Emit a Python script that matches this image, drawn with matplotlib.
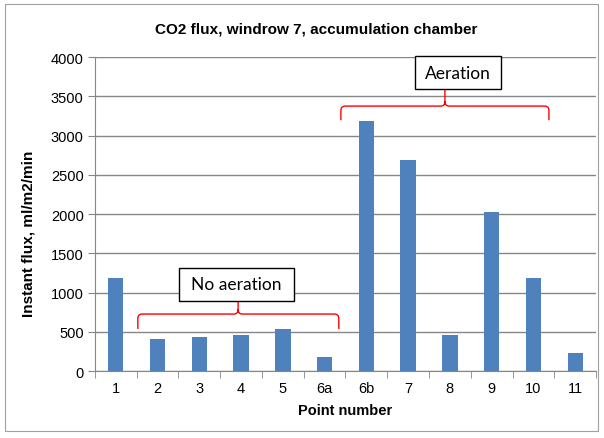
import matplotlib
matplotlib.use('Agg')
import matplotlib.pyplot as plt
from matplotlib.path import Path
from matplotlib.patches import PathPatch, Rectangle

points = ['1', '2', '3', '4', '5', '6a', '6b', '7', '8', '9', '10', '11']
flux = [1190, 410, 430, 460, 540, 180, 3190, 2690, 460, 2030, 1190, 230]

BAR_COLOR = '#4F81BD'
GRID_COLOR = '#868686'
BRACE_COLOR = '#FF0000'

plt.rcParams['font.family'] = ['Liberation Sans', 'DejaVu Sans']


def brace(ax, x0, x1, xm, y, drop, peak, r=0.1, rh=60):
    """Horizontal curly bracket opening downward, with a stem up to the label box."""
    verts = [(x0, y - drop), (x0, y - rh), (x0, y), (x0 + r, y),
             (xm - r, y), (xm, y), (xm, y + rh), (xm, peak),
             (xm, y + rh), (xm, y), (xm + r, y),
             (x1 - r, y), (x1, y), (x1, y - rh), (x1, y - drop)]
    codes = [Path.MOVETO, Path.LINETO, Path.CURVE3, Path.CURVE3,
             Path.LINETO, Path.CURVE3, Path.CURVE3, Path.LINETO,
             Path.MOVETO, Path.CURVE3, Path.CURVE3,
             Path.LINETO, Path.CURVE3, Path.CURVE3, Path.LINETO]
    ax.add_patch(PathPatch(Path(verts, codes), facecolor='none',
                           edgecolor=BRACE_COLOR, lw=1.0, clip_on=False, zorder=4))


def label_box(ax, x0, x1, y0, y1, text):
    ax.add_patch(Rectangle((x0, y0), x1 - x0, y1 - y0, facecolor='white',
                           edgecolor='black', lw=1.0, clip_on=False, zorder=5))
    ax.text((x0 + x1) / 2, (y0 + y1) / 2, text, ha='center', va='center',
            fontsize=12.5, family=['Lato', 'DejaVu Sans'], zorder=6)


fig = plt.figure(figsize=(6.04, 4.39), dpi=100)
fig.patches.append(Rectangle((5 / 604, 7 / 439), 593 / 604, 427 / 439,
                             transform=fig.transFigure, fill=False,
                             edgecolor='#A0A0A0', lw=0.8))
ax = fig.add_axes([0.157, 0.1526, 0.830, 0.715])

x = list(range(len(points)))
ax.bar(x, flux, width=0.37, color=BAR_COLOR, zorder=3)

ax.set_xlim(-0.5, len(points) - 0.5)
ax.set_ylim(0, 4000)
ax.set_yticks(range(0, 4001, 500))
ax.yaxis.grid(True, color=GRID_COLOR, lw=1.0, zorder=0)
ax.set_axisbelow(True)

ax.set_xticks(x)
ax.set_xticklabels(points, fontsize=10.5)
ax.set_xticks([i - 0.5 for i in range(len(points) + 1)], minor=True)
ax.tick_params(axis='x', which='major', length=0, pad=7)
ax.tick_params(axis='x', which='minor', length=5, color=GRID_COLOR)
ax.tick_params(axis='y', labelsize=10.5, length=5, color=GRID_COLOR, pad=3)

for s in ('top', 'right'):
    ax.spines[s].set_visible(False)
for s in ('left', 'bottom'):
    ax.spines[s].set_color(GRID_COLOR)

ax.set_xlabel('Point number', fontsize=10.5, fontweight='bold', labelpad=6)
ax.set_ylabel('Instant flux, ml/m2/min', fontsize=11, fontweight='bold')
ax.yaxis.set_label_coords(-0.118, 0.44)
fig.text(316 / 604, 1 - 29 / 439,
         'CO2 flux, windrow 7, accumulation chamber',
         ha='center', va='center', fontsize=11, fontweight='bold')

# brackets and labels
brace(ax, 0.53, 5.34, 2.93, 726, 190, 895, r=0.1, rh=60)
brace(ax, 5.39, 10.37, 7.88, 3376, 180, 3592, r=0.1, rh=60)
label_box(ax, 1.51, 4.27, 895, 1310, 'No aeration')
label_box(ax, 7.16, 9.22, 3592, 4010, 'Aeration')

fig.savefig('out.png', dpi=100, facecolor='white')
